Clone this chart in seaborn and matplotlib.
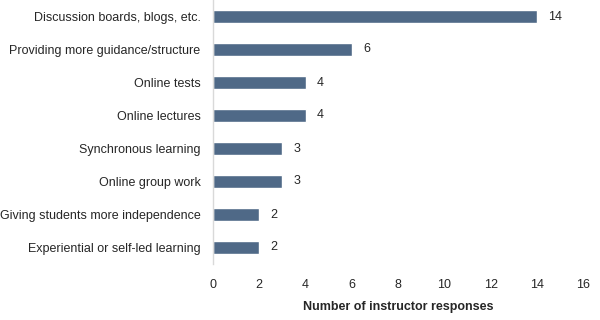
import matplotlib
matplotlib.use("Agg")
import matplotlib.pyplot as plt
import seaborn as sns
import pandas as pd
from matplotlib import font_manager

categories = [
    "Discussion boards, blogs, etc.",
    "Providing more guidance/structure",
    "Online tests",
    "Online lectures",
    "Synchronous learning",
    "Online group work",
    "Giving students more independence",
    "Experiential or self-led learning",
]
values = [14, 6, 4, 4, 3, 3, 2, 2]
xticks = [0, 2, 4, 6, 8, 10, 12, 14, 16]

sns.set_theme(style="white")
names = {f.name for f in font_manager.fontManager.ttflist}
fam = 'Liberation Sans Narrow' if 'Liberation Sans Narrow' in names else 'Liberation Sans'
plt.rcParams['font.family'] = [fam, 'DejaVu Sans']
fs = 10.4 if fam == 'Liberation Sans Narrow' else 9

df = pd.DataFrame({"cat": categories, "val": values})

fig = plt.figure(figsize=(6, 3.2), dpi=100)
ax = fig.add_axes([0.355, 0.175, 0.617, 0.825])
sns.barplot(data=df, x="val", y="cat", color="#4F6987", width=0.38,
            saturation=1, ax=ax, orient="h")
ax.set_xlim(0, 16)
ax.set_xticks(xticks)
ax.set_xticklabels([str(t) for t in xticks], fontsize=fs, color="#262626")
ax.tick_params(axis="y", labelsize=fs, labelcolor="#262626", length=0, pad=9)
ax.tick_params(axis="x", length=0, pad=11)
ax.set_ylabel("")
ax.set_xlabel("Number of instructor responses", fontsize=fs, fontweight="bold",
              color="#262626", labelpad=7)
for s in ["top", "right", "bottom"]:
    ax.spines[s].set_visible(False)
ax.spines["left"].set_color("#D9D9D9")
ax.spines["left"].set_linewidth(1)
for c in ax.containers:
    ax.bar_label(c, padding=8, fontsize=fs, color="#262626")
fig.savefig("out.png", dpi=100)
